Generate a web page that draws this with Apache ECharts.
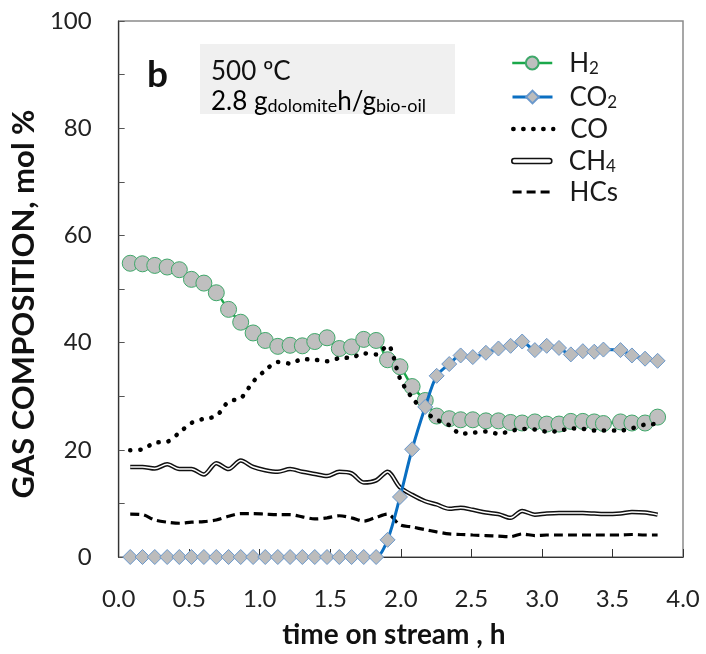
<!DOCTYPE html>
<html>
<head>
<meta charset="utf-8">
<script src="https://cdn.jsdelivr.net/npm/echarts@6/dist/echarts.min.js"></script>
<style>
html,body{margin:0;padding:0;background:#fff;}
#chart{width:706px;height:654px;}
</style>
</head>
<body>
<div id="chart"></div>
<script>
// time on stream (h)
const timeH = [0.082,0.169,0.256,0.344,0.430,0.516,0.604,0.692,0.779,0.865,0.953,1.039,1.128,1.215,1.302,1.390,1.477,1.564,1.651,1.737,1.825,1.906,1.994,2.080,2.173,2.254,2.343,2.424,2.510,2.603,2.692,2.778,2.860,2.950,3.034,3.121,3.205,3.290,3.371,3.436,3.557,3.638,3.731,3.820];
const h2 = [54.8,54.7,54.4,54.1,53.6,51.8,51.1,49.3,46.2,43.8,41.8,40.4,39.3,39.5,39.4,40.2,40.9,38.9,39.2,40.6,40.4,36.8,35.5,31.8,29.2,26.3,25.8,25.6,25.6,25.4,25.4,25.1,25.0,25.2,24.8,24.8,25.3,25.3,25.2,24.9,25.2,25.0,25.0,26.1];
const co2 = [0,0,0,0,0,0,0,0,0,0,0,0,0,0,0,0,0,0,0,0,0,3.2,11.2,20.1,28.0,33.8,36.0,37.6,37.3,38.1,38.9,39.4,40.2,38.6,39.4,39.0,37.8,38.4,38.3,38.7,38.6,37.6,37.0,36.6];
const co = [19.9,20.1,21.3,21.5,23.2,25.0,25.8,26.3,29.0,29.6,32.7,34.8,36.4,36.1,36.9,36.8,36.5,37.1,37.2,38.0,37.8,39.5,33.3,29.7,27.1,25.6,24.6,23.0,23.2,23.4,23.0,23.5,23.9,23.8,23.4,23.5,24.0,23.9,23.6,23.6,23.6,24.0,24.7,24.8];
const ch4 = [16.8,16.8,16.5,17.3,16.4,16.4,15.4,17.5,16.4,18.0,16.8,16.2,15.9,16.4,15.9,15.5,15.1,15.9,15.6,13.9,14.3,15.9,13.0,11.6,10.4,9.8,9.0,9.2,8.8,8.3,8.0,7.3,8.6,7.9,8.1,8.2,8.2,8.2,8.1,8.0,8.1,8.4,8.3,7.9];
const hcs = [8.0,7.9,6.9,6.5,6.3,6.5,6.6,6.9,7.6,8.1,8.1,8.0,7.9,7.9,7.5,7.1,7.3,7.7,7.3,6.7,7.4,8.0,6.0,5.6,5.1,4.7,4.3,4.2,4.1,4.0,3.9,3.8,4.3,4.0,4.1,4.1,4.1,4.1,4.1,4.1,4.1,4.2,4.1,4.1];
const seriesNames = ['H2','CO2','CO','CH4','HCs'];
const xTicks = {min:0, max:4, interval:0.5};
const yTicks = {min:0, max:100, interval:20};

const FONT = 'Lato, "Open Sans", sans-serif';
const pair = arr => timeH.map((t,i)=>[t,arr[i]]);

const legendLabels = {
  'H2': '{g|}{b|H}{s|2}',
  'CO2': '{g|}{b|CO}{s|2}',
  'CO': '{g|}{b|CO}',
  'CH4': '{g|}{b|CH}{s|4}',
  'HCs': '{g|}{b|HCs}'
};
const legendRich = {
  g: {width: 12},
  b: {fontSize: 26, fontFamily: FONT, color: '#1a1a1a', lineHeight: 28, verticalAlign: 'bottom'},
  s: {fontSize: 17, fontFamily: FONT, color: '#1a1a1a', lineHeight: 7, verticalAlign: 'bottom'}
};
const legendTops = [46, 80, 112, 144, 175];
const hideSym = {itemStyle: {color: 'rgba(0,0,0,0)', borderColor: 'rgba(0,0,0,0)', borderWidth: 0}};
function mkLegend(name, i, extra) {
  return {
    data: [Object.assign({name: name}, extra || {})],
    left: 506, top: legendTops[i], orient: 'vertical',
    itemWidth: 40, itemHeight: 16,
    formatter: n => legendLabels[n],
    textStyle: {rich: legendRich},
    lineStyle: {width: 'inherit'},
    selectedMode: false
  };
}

const chart = echarts.init(document.getElementById('chart'), null, {renderer: 'canvas'});
chart.setOption({
  animation: false,
  backgroundColor: '#fff',
  grid: {left: 110, right: 23, top: 21, bottom: 94, show: true, borderColor: '#8a8a8a', borderWidth: 1.5},
  xAxis: {
    type: 'value', min: xTicks.min, max: xTicks.max, interval: xTicks.interval,
    name: 'time on stream , h', nameLocation: 'middle', nameGap: 64,
    nameTextStyle: {fontFamily: FONT, fontWeight: 'bold', fontSize: 28, color: '#111', padding: [0, 14, 0, 0]},
    axisLine: {show: true, onZero: false, lineStyle: {color: '#333', width: 1.2}},
    axisTick: {show: true, inside: true, length: 8, lineStyle: {color: '#333'}},
    axisLabel: {fontFamily: FONT, fontSize: 24, color: '#222', margin: 30, formatter: v => v.toFixed(1)},
    splitLine: {show: false}
  },
  yAxis: {
    type: 'value', min: yTicks.min, max: yTicks.max, interval: yTicks.interval,
    name: 'GAS COMPOSITION, mol %', nameLocation: 'middle', nameGap: 62, nameRotate: 90,
    nameTextStyle: {fontFamily: FONT, fontWeight: 'bold', fontSize: 31, color: '#111', padding: [0, 30, 0, 0]},
    axisLine: {show: true, lineStyle: {color: '#333', width: 1.2}},
    axisTick: {show: true, inside: true, length: 6, lineStyle: {color: '#555'}},
    minorTick: {show: true, splitNumber: 2, length: 6, lineStyle: {color: '#555'}},
    axisLabel: {fontFamily: FONT, fontSize: 24, color: '#222', margin: 27},
    splitLine: {show: false}
  },
  legend: [
    mkLegend('H2', 0),
    mkLegend('CO2', 1),
    mkLegend('CO', 2, hideSym),
    mkLegend('CH4', 3, {icon: 'path://M2,0 L38,0 A2.5,2.5 0 0 1 38,5 L2,5 A2.5,2.5 0 0 1 2,0 Z', itemStyle: {color: '#ffffff', borderColor: '#111', borderWidth: 1.6}}),
    mkLegend('HCs', 4, hideSym)
  ],
  graphic: [
    {type: 'rect', left: 200, top: 44, shape: {width: 255, height: 70}, style: {fill: '#f0f0f0'}, z: 1},
    {type: 'text', left: 147, top: 57, style: {text: 'b', font: 'bold 37px ' + FONT, fill: '#111'}, z: 2},
    {type: 'text', left: 211, top: 59, style: {text: '500 ºC', font: '26px ' + FONT, fill: '#111'}, z: 2},
    {type: 'text', left: 211, top: 89, style: {
      text: '{n|2.8 g}{u|dolomite}{n|h/g}{u|bio-oil}',
      rich: {
        n: {fontSize: 26, fontFamily: FONT, color: '#111', lineHeight: 30, verticalAlign: 'bottom'},
        u: {fontSize: 18, fontFamily: FONT, color: '#111', lineHeight: 14, verticalAlign: 'bottom'}
      }
    }, z: 2}
  ],
  series: [
    {
      name: 'H2', type: 'line', data: pair(h2), smooth: 0.3, z: 3,
      symbol: 'circle', symbolSize: 16, showSymbol: true,
      lineStyle: {color: '#1aa84a', width: 2.5},
      itemStyle: {color: '#bfbfbf', borderColor: '#3fa86a', borderWidth: 1}
    },
    {
      name: 'CO2', type: 'line', data: pair(co2), smooth: 0.3, z: 5,
      symbol: 'diamond', symbolSize: 15, showSymbol: true,
      lineStyle: {color: '#0a6fc2', width: 3},
      itemStyle: {color: '#bcbcbc', borderColor: '#6a98cc', borderWidth: 1}
    },
    {
      name: 'CO', type: 'line', data: pair(co), smooth: 0.3, z: 4,
      symbol: 'none', showSymbol: false,
      itemStyle: {color: '#000'},
      lineStyle: {color: '#000', width: 4.5, type: [0.3, 9.7], cap: 'round'}
    },
    {
      name: 'CH4', type: 'line', data: pair(ch4), smooth: 0.3, z: 3,
      symbol: 'none', showSymbol: false,
      itemStyle: {color: '#111'},
      lineStyle: {color: '#111', width: 4.5}
    },
    {
      name: 'CH4 inner', type: 'line', data: pair(ch4), smooth: 0.3, z: 3,
      symbol: 'none', showSymbol: false, silent: true,
      lineStyle: {color: '#ffffff', width: 1.5}
    },
    {
      name: 'HCs', type: 'line', data: pair(hcs), smooth: 0.3, z: 3,
      symbol: 'none', showSymbol: false,
      itemStyle: {color: '#000'},
      lineStyle: {color: '#000', width: 3.2, type: [9, 5]}
    }
  ]
});
</script>
</body>
</html>
